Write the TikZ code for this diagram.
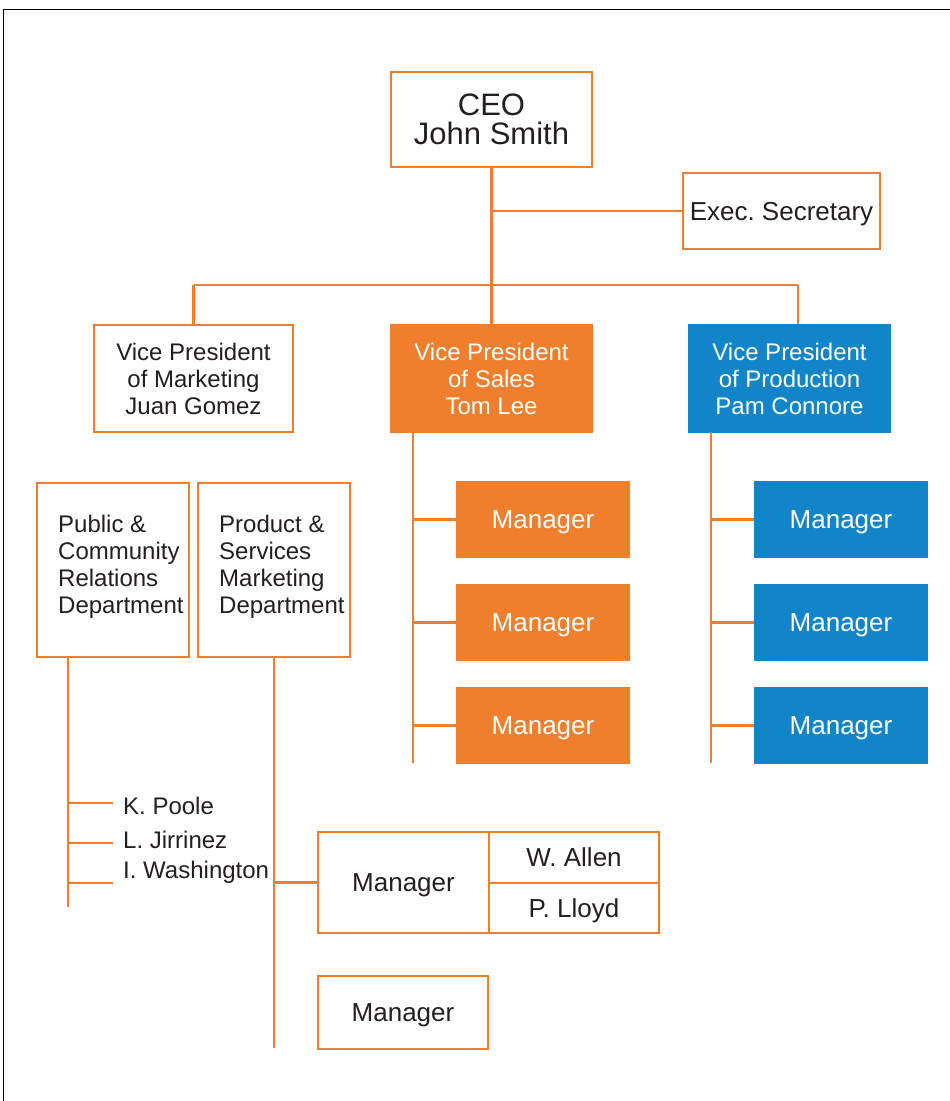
\documentclass[tikz,border=0pt]{standalone}
\usepackage{fontspec}
\setmainfont{Liberation Sans}
\frenchspacing
\definecolor{org}{RGB}{239,127,45}
\definecolor{blu}{RGB}{17,133,199}
\definecolor{ink}{RGB}{35,31,32}
\begin{document}
\begin{tikzpicture}[x=1pt,y=-1pt,
  box/.style={draw=org,line width=2.8pt,fill=white,inner sep=0pt,text=ink,align=center},
  obox/.style={box,fill=org,text=white},
  bbox/.style={draw=blu,line width=2.8pt,fill=blu,inner sep=0pt,text=white,align=center},
  conn/.style={draw=org,line width=2.8pt},
  txt/.style={inner sep=0pt,text=ink,align=left,anchor=west},
  fbig/.style={font=\fontsize{31}{29}\selectfont},
  fvp/.style={font=\fontsize{24}{27}\selectfont},
  fmg/.style={font=\fontsize{26}{28}\selectfont},
  nod/.style={text depth=0pt}]
\useasboundingbox (0,0) rectangle (950,1101);
\fill[white] (0,0) rectangle (950,1101);
\coordinate (fbl) at (3.5,1110);
\coordinate (ftl) at (3.5,9.5);
\coordinate (ftr) at (960,9.5);
\draw[black,line width=1.2pt] (fbl) -- (ftl) -- (ftr);

% top level
\node[box,fbig,minimum width=201,minimum height=95] (ceo) at (491.5,119.5) {CEO\\John Smith};
\node[box,fmg,nod,minimum width=197,minimum height=76] (sec) at (781.5,211) {Exec. Secretary};
\node[box,fvp,minimum width=199,minimum height=107] (vpm) at (193.5,378.5) {Vice President\\of Marketing\\Juan Gomez};
\node[obox,fvp,minimum width=201,minimum height=107] (vps) at (491.5,378.5) {Vice President\\of Sales\\Tom Lee};
\node[bbox,fvp,minimum width=201,minimum height=107] (vpp) at (789.5,378.5) {Vice President\\of Production\\Pam Connore};

\coordinate (bus) at (491.5,285);
\coordinate (busL) at (193.5,285);
\coordinate (busR) at (798,285);
\draw[conn] (ceo.south) -- (bus);
\draw[conn] (ceo.south |- sec.west) -- (sec.west);
\draw[conn] (busL) -- (busR);
\draw[conn] (busL) -- (vpm.north);
\draw[conn] (bus) -- (vps.north);
\draw[conn] (busR) -- (busR |- vpp.north);

% sales and production managers
\foreach \n/\y in {1/519.5,2/622.5,3/725.5}{
  \node[obox,fmg,nod,minimum width=172,minimum height=75] (sm\n) at (543,\y) {Manager};
  \node[bbox,fmg,nod,minimum width=172,minimum height=75] (pm\n) at (841,\y) {Manager};
}
\coordinate (ss0) at (413,432);
\coordinate (ss1) at (413,763);
\coordinate (ps0) at (711,432);
\coordinate (ps1) at (711,763);
\draw[conn] (ss0) -- (ss1);
\draw[conn] (ps0) -- (ps1);
\foreach \n in {1,2,3}{
  \draw[conn] (ss0 |- sm\n.west) -- (sm\n.west);
  \draw[conn] (ps0 |- pm\n.west) -- (pm\n.west);
}

% marketing departments
\node[box,minimum width=152,minimum height=174] (pub) at (113,570) {};
\node[box,minimum width=152,minimum height=174] (psm) at (274,570) {};
\node[txt,fvp] (pubt) at (58,566.5) {Public \&\\Community\\Relations\\Department};
\node[txt,fvp] (psmt) at (219,566.5) {Product \&\\Services\\Marketing\\Department};

% public relations staff
\coordinate (pr0) at (68,657);
\coordinate (pr1) at (68,907);
\draw[conn] (pr0) -- (pr1);
\node[txt,fvp] (kp) at (123,806) {K. Poole};
\node[txt,fvp] (lj) at (123,840) {L. Jirrinez};
\node[txt,fvp] (iw) at (123,872) {I. Washington};
\coordinate (kpe) at (113,803);
\coordinate (lje) at (113,843);
\coordinate (iwe) at (113,883);
\draw[conn] (pr0 |- kpe) -- (kpe);
\draw[conn] (pr0 |- lje) -- (lje);
\draw[conn] (pr0 |- iwe) -- (iwe);

% product & services managers
\node[box,fmg,nod,minimum width=171,minimum height=101] (mA) at (403.5,882.5) {Manager};
\node[box,fmg,nod,minimum width=170,minimum height=51] (wa) at (574,857.5) {W. Allen};
\node[box,fmg,nod,minimum width=170,minimum height=50] (pl) at (574,908) {P. Lloyd};
\node[box,fmg,nod,minimum width=170,minimum height=73] (mB) at (403,1012.5) {Manager};
\coordinate (pd0) at (274,657);
\coordinate (pd1) at (274,1048);
\draw[conn] (pd0) -- (pd1);
\draw[conn] (pd0 |- mA.west) -- (mA.west);
\end{tikzpicture}
\end{document}
